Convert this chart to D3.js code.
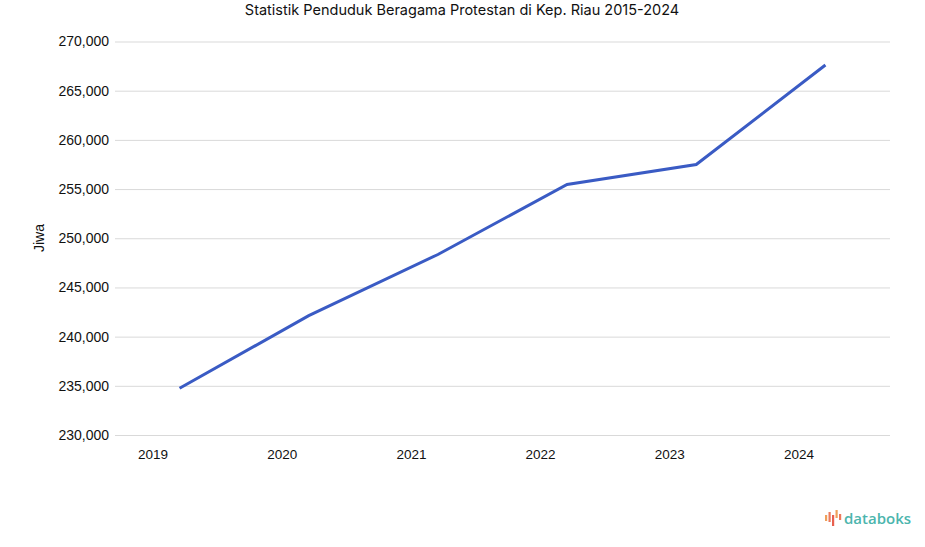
<!DOCTYPE html>
<html lang="id">
<head>
    <meta charset="UTF-8">
    <script src="https://d3js.org/d3.v7.min.js"></script>
    <style>
        body { margin: 0; background: #fff; }
        svg { display: block; }
    </style>
</head>
<body>
    <svg id="chart"></svg>
    <script>
        // data
        const years = ["2019", "2020", "2021", "2022", "2023", "2024"];
        const jiwa = [234750, 242130, 248350, 255470, 257500, 267610];
        const yTicks = [230000, 235000, 240000, 245000, 250000, 255000, 260000, 265000, 270000];

        const width = 925, height = 547;
        const margin = {top: 41.5, right: 35, bottom: 112, left: 115};

        const svg = d3.select("#chart")
            .attr("width", width)
            .attr("height", height);

        const x = d3.scaleBand()
            .domain(years)
            .range([margin.left, width - margin.right]);

        const y = d3.scaleLinear()
            .domain([230000, 270000])
            .range([height - margin.bottom, margin.top]);

        const fmt = d3.format(",");

        // gridlines + y labels
        const yAxis = svg.append("g")
            .attr("transform", `translate(${margin.left},0)`)
            .call(d3.axisLeft(y).tickValues(yTicks).tickFormat(fmt)
                .tickSize(-(width - margin.left - margin.right)).tickPadding(6));
        yAxis.select(".domain").remove();
        yAxis.selectAll(".tick line").attr("stroke", "#d9d9d9").attr("stroke-width", 1);
        yAxis.selectAll(".tick text")
            .attr("fill", "#111")
            .style("font-family", "'Liberation Sans', Arial, sans-serif")
            .style("font-size", "14px");

        // x labels
        const xAxis = svg.append("g")
            .attr("transform", `translate(0,${height - margin.bottom})`)
            .call(d3.axisBottom(x).tickSize(0).tickPadding(14));
        xAxis.select(".domain").remove();
        xAxis.selectAll(".tick text")
            .attr("dx", -26.5)
            .attr("fill", "#111")
            .style("font-family", "'Liberation Sans', Arial, sans-serif")
            .style("font-size", "13.5px");

        // line
        const line = d3.line()
            .x((d, i) => x(years[i]) + x.bandwidth() / 2)
            .y(d => y(d));

        svg.append("path")
            .datum(jiwa)
            .attr("fill", "none")
            .attr("stroke", "#3a5bc4")
            .attr("stroke-width", 3)
            .attr("d", line);

        // title
        svg.append("text")
            .attr("x", 462)
            .attr("y", 15)
            .attr("text-anchor", "middle")
            .attr("fill", "#111")
            .style("font-family", "Inter, Roboto, sans-serif")
            .style("font-size", "14.5px")
            .text("Statistik Penduduk Beragama Protestan di Kep. Riau 2015-2024");

        // y axis title
        svg.append("text")
            .attr("transform", "translate(44,238) rotate(-90)")
            .attr("text-anchor", "middle")
            .attr("fill", "#111")
            .style("font-family", "'Liberation Sans', Arial, sans-serif")
            .style("font-size", "14px")
            .text("Jiwa");

        // databoks logo
        const logo = svg.append("g").attr("transform", "translate(825,510)");
        const bars = [
            {x: 0, y: 5, h: 6, c: "#f0a05a"},
            {x: 3.5, y: 2, h: 10, c: "#ec7a5c"},
            {x: 7, y: 5, h: 11, c: "#e8604f"},
            {x: 10.5, y: 0, h: 8, c: "#f0a05a"},
            {x: 14, y: 4, h: 6, c: "#ec7a5c"}
        ];
        logo.selectAll("rect").data(bars).enter().append("rect")
            .attr("x", d => d.x).attr("y", d => d.y)
            .attr("width", 2.2).attr("height", d => d.h)
            .attr("fill", d => d.c);
        logo.append("text")
            .attr("x", 19)
            .attr("y", 13.5)
            .attr("fill", "#4cb5ad")
            .style("font-family", "'Open Sans', sans-serif")
            .style("font-size", "15px")
            .style("font-weight", "600")
            .text("databoks");
    </script>
</body>
</html>
